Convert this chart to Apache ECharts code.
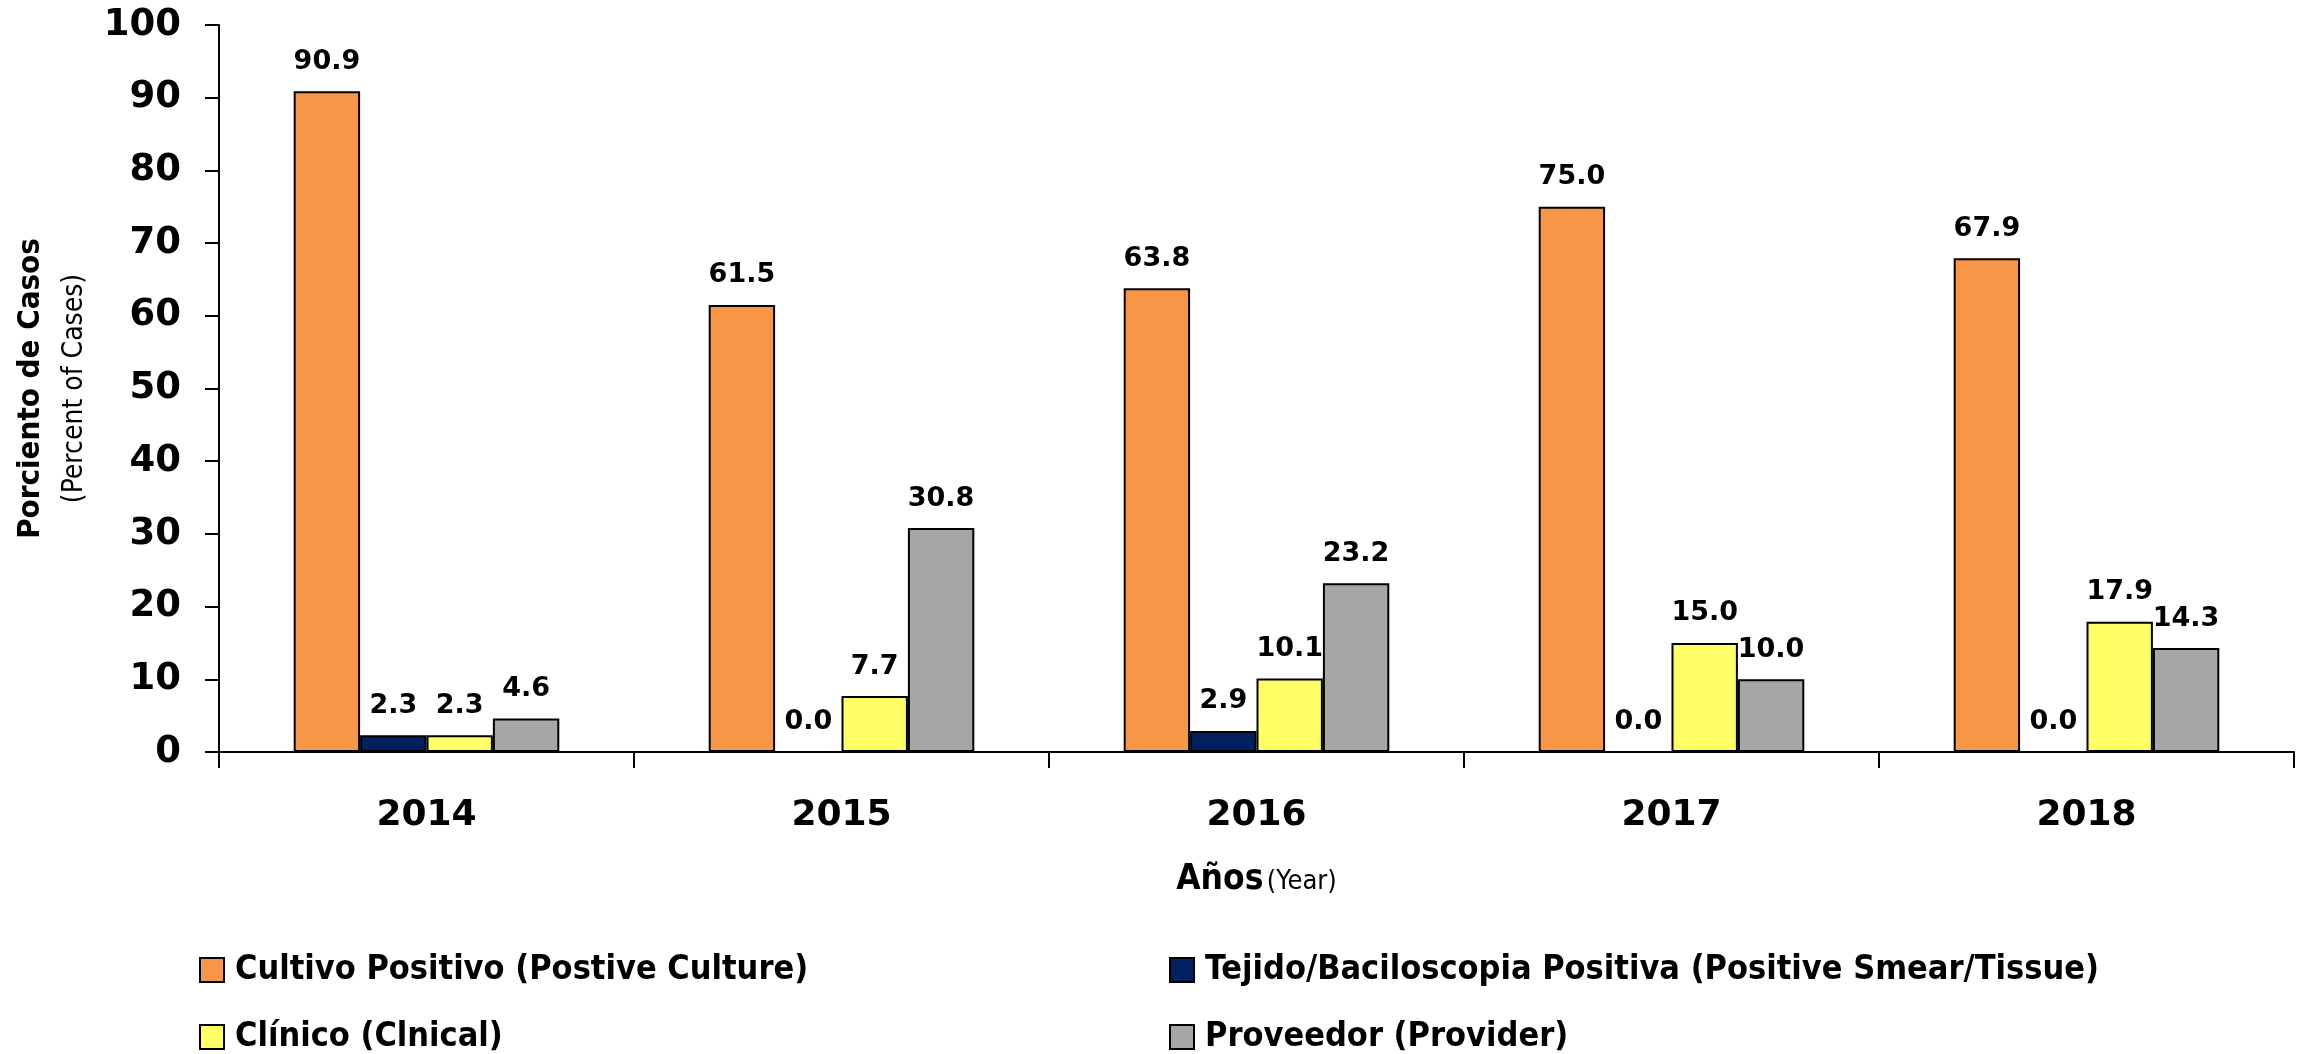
<!DOCTYPE html>
<html>
<head>
    <meta charset="utf-8">
    <title>Porciento de Casos</title>
    <script src="https://cdnjs.cloudflare.com/ajax/libs/echarts/6.0.0/echarts.min.js"></script>
    <style>
        html, body { margin: 0; padding: 0; background: #fff; }
        #chart { width: 2318px; height: 1054px; }
    </style>
</head>
<body>
    <div id="chart"></div>
    <script>
        // datos
        const years = ['2014', '2015', '2016', '2017', '2018'];
        const cultivo = [90.9, 61.5, 63.8, 75.0, 67.9];
        const tejido = [2.3, 0.0, 2.9, 0.0, 0.0];
        const clinico = [2.3, 7.7, 10.1, 15.0, 17.9];
        const proveedor = [4.6, 30.8, 23.2, 10.0, 14.3];

        const names = [
            'Cultivo Positivo (Postive Culture)',
            'Tejido/Baciloscopia Positiva (Positive Smear/Tissue)',
            'Clínico (Clnical)',
            'Proveedor (Provider)'
        ];
        const colors = ['#F79646', '#002060', '#FFFF66', '#A6A6A6'];

        const numFont = 'DejaVu Sans';
        const textFont = 'DejaVu Sans Condensed';

        function makeSeries(name, values, color) {
            return {
                name: name,
                type: 'bar',
                data: values,
                barGap: '0%',
                barCategoryGap: '36%',
                itemStyle: { color: color, borderColor: '#000', borderWidth: 2 },
                label: {
                    show: true,
                    position: 'top',
                    distance: 16,
                    color: '#000',
                    fontFamily: numFont,
                    fontWeight: 'bold',
                    fontSize: 27,
                    formatter: p => p.value.toFixed(1)
                }
            };
        }

        // una leyenda por elemento, en dos columnas
        const legendPos = [[194, 948], [1164, 948], [194, 1015], [1164, 1015]];
        const legends = names.map((n, i) => ({
            data: [n],
            left: legendPos[i][0],
            top: legendPos[i][1],
            icon: 'rect',
            itemWidth: 24,
            itemHeight: 24,
            textStyle: {
                fontFamily: textFont,
                fontWeight: 'bold',
                fontSize: 34,
                color: '#000',
                padding: [0, 0, 0, 6]
            }
        }));

        const chart = echarts.init(document.getElementById('chart'));
        chart.setOption({
            animation: false,
            grid: { left: 219, right: 24, top: 25, bottom: 302 },
            legend: legends,
            xAxis: {
                type: 'category',
                data: years,
                name: '{a|Años} {b|(Year)}',
                nameLocation: 'middle',
                nameGap: 110,
                nameTextStyle: {
                    rich: {
                        a: { fontFamily: textFont, fontWeight: 'bold', fontSize: 35, color: '#000' },
                        b: { fontFamily: textFont, fontSize: 27, color: '#000', verticalAlign: 'bottom', padding: [0, 0, 2, 0] }
                    }
                },
                axisLine: { lineStyle: { color: '#000', width: 2 } },
                axisTick: { show: true, length: 16, lineStyle: { color: '#000', width: 2 } },
                axisLabel: {
                    margin: 46,
                    color: '#000',
                    fontFamily: numFont,
                    fontWeight: 'bold',
                    fontSize: 36
                }
            },
            yAxis: {
                type: 'value',
                min: 0,
                max: 100,
                interval: 10,
                name: '{a|Porciento de Casos}\n{b|(Percent of Cases)}',
                nameLocation: 'middle',
                nameRotate: 90,
                nameGap: 124,
                nameTextStyle: {
                    align: 'center',
                    rich: {
                        a: { fontFamily: textFont, fontWeight: 'bold', fontSize: 31, color: '#000', lineHeight: 48 },
                        b: { fontFamily: textFont, fontSize: 28, color: '#000', lineHeight: 40 }
                    }
                },
                splitLine: { show: false },
                axisLine: { show: true, lineStyle: { color: '#000', width: 2 } },
                axisTick: { show: true, length: 14, lineStyle: { color: '#000', width: 2 } },
                axisLabel: {
                    margin: 38,
                    color: '#000',
                    fontFamily: numFont,
                    fontWeight: 'bold',
                    fontSize: 37
                }
            },
            series: [
                makeSeries(names[0], cultivo, colors[0]),
                makeSeries(names[1], tejido, colors[1]),
                makeSeries(names[2], clinico, colors[2]),
                makeSeries(names[3], proveedor, colors[3])
            ]
        });
    </script>
</body>
</html>
